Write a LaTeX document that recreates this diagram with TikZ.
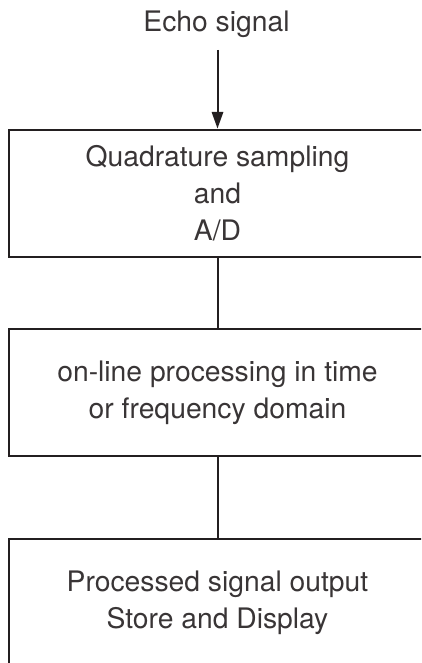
\documentclass[tikz,border=0pt]{standalone}
\usepackage{fontspec}
\setmainfont{TeX Gyre Heros}
\usetikzlibrary{arrows.meta}
\definecolor{ink}{HTML}{231F20}
\begin{document}
\begin{tikzpicture}[x=0.75pt,y=-0.75pt,
  line width=1.5pt, draw=ink,
  txt/.style={text=ink!90, font=\fontsize{21.2pt}{27.5pt}\selectfont, align=center},
  stagebox/.style={draw=ink, line width=1.5pt, rectangle, inner sep=0pt,
    minimum width=312.75pt, minimum height=95.25pt, txt},
  link/.style={draw=ink, line width=1.5pt},
  arr/.style={link, -{Triangle[length=12.5pt,width=8.5pt]}}]
\useasboundingbox (0,0) rectangle (421,663);
\clip (0,0) rectangle (421,663);
\node[txt, anchor=base] (echo) at (216.5,31.7) {Echo signal};
\coordinate (in) at (217.5,50);
\node[stagebox] (qs) at (217.5,193.1) {Quadrature sampling\\and\\A/D};
\node[stagebox] (olp) at (217.5,392.9) {on-line processing in time\\or frequency domain};
\node[stagebox] (out) at (217.5,602.5) {Processed signal output\\Store and Display};
\draw[arr] (in) -- (qs.north);
\draw[link] (qs.south) -- (olp.north);
\draw[link] (olp.south) -- (out.north);
\end{tikzpicture}
\end{document}
